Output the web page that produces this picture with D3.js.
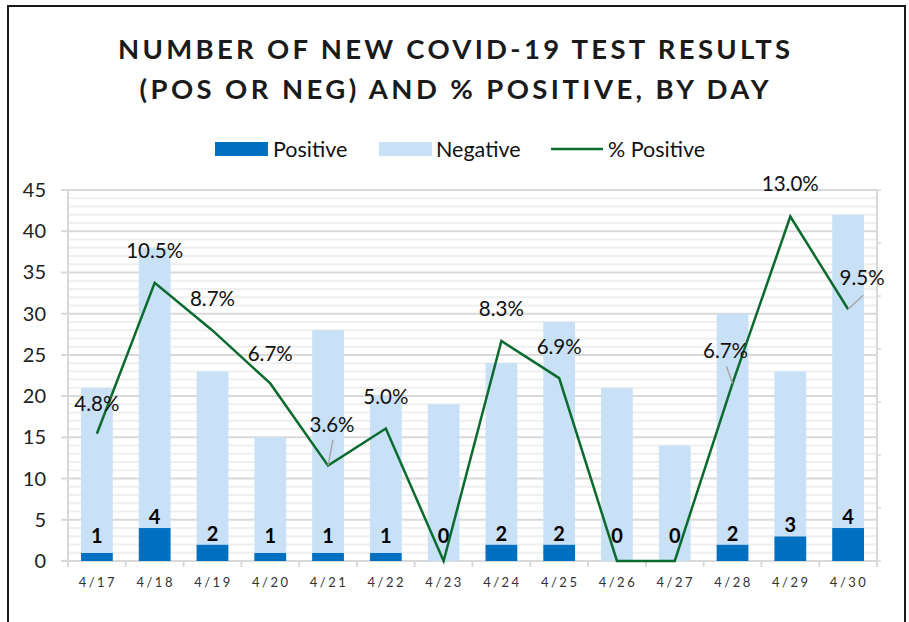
<!DOCTYPE html>
<html><head><meta charset="utf-8">
<script src="https://cdn.jsdelivr.net/npm/d3@7"></script>
<style>body{margin:0;background:#fff}svg{display:block}</style>
</head><body>
<svg id="c" width="909" height="622"></svg>
<script>
const categories = ["4/17","4/18","4/19","4/20","4/21","4/22","4/23","4/24","4/25","4/26","4/27","4/28","4/29","4/30"];
const positive = [1,4,2,1,1,1,0,2,2,0,0,2,3,4];
const negative = [20,34,21,14,27,19,19,22,27,21,14,28,20,38];
const pctPositive = [4.8,10.5,8.7,6.7,3.6,5.0,0,8.3,6.9,0,0,6.7,13.0,9.5];
const pctLabels = ["4.8%","10.5%","8.7%","6.7%","3.6%","5.0%",null,"8.3%","6.9%",null,null,"6.7%","13.0%","9.5%"];
const yTicks = [0,5,10,15,20,25,30,35,40,45];
const titleLines = ["NUMBER OF NEW COVID-19 TEST RESULTS","(POS OR NEG) AND % POSITIVE, BY DAY"];

const svg = d3.select("#c");
const m = {left:68, right:877, top:190, bottom:561};

// frame
svg.append("rect").attr("x",8).attr("y",6).attr("width",897).attr("height",640)
  .attr("fill","#fff").attr("stroke","#1a1a1a").attr("stroke-width",2);

const x = d3.scaleBand().domain(categories).range([m.left,m.right]).paddingInner(0.45).paddingOuter(0.225);
const y = d3.scaleLinear().domain([0,45]).range([m.bottom,m.top]);
const y2 = d3.scaleLinear().domain([0,14]).range([m.bottom,m.top]);

// gridlines
const g = svg.append("g");
g.selectAll("line.minor").data(d3.range(0,46)).join("line")
  .attr("x1",m.left).attr("x2",m.right)
  .attr("y1",d=>y(d)).attr("y2",d=>y(d))
  .attr("stroke",d=>d%5===0?"#d9d9d9":"#efefef").attr("stroke-width",2);
g.append("line").attr("x1",m.left).attr("x2",m.left).attr("y1",m.top).attr("y2",m.bottom).attr("stroke","#d9d9d9").attr("stroke-width",2);
g.append("line").attr("x1",m.right).attr("x2",m.right).attr("y1",m.top).attr("y2",m.bottom).attr("stroke","#d9d9d9").attr("stroke-width",2);
g.selectAll("line.t1").data(yTicks).join("line")
  .attr("x1",m.left-7).attr("x2",m.left).attr("y1",d=>y(d)).attr("y2",d=>y(d))
  .attr("stroke","#d9d9d9").attr("stroke-width",2);
g.selectAll("line.t2").data(d3.range(0,15,2)).join("line")
  .attr("x1",m.right).attr("x2",m.right+4).attr("y1",d=>y2(d)).attr("y2",d=>y2(d))
  .attr("stroke","#d9d9d9").attr("stroke-width",1.5);

// y axis labels
svg.append("g").selectAll("text").data(yTicks).join("text")
  .attr("x",46).attr("y",d=>y(d)).attr("dy","0.35em").attr("text-anchor","end")
  .attr("font-family","Lato, sans-serif").attr("font-size",20).attr("fill","#222")
  .text(d=>d);

// x axis line & ticks
svg.append("line").attr("x1",m.left).attr("x2",m.right).attr("y1",m.bottom).attr("y2",m.bottom).attr("stroke","#d9d9d9").attr("stroke-width",2);
svg.append("g").selectAll("line").data(d3.range(0,categories.length+1)).join("line")
  .attr("x1",d=>m.left+d*x.step()).attr("x2",d=>m.left+d*x.step())
  .attr("y1",m.bottom).attr("y2",m.bottom+6).attr("stroke","#d9d9d9").attr("stroke-width",2);
svg.append("g").selectAll("text").data(categories).join("text")
  .attr("x",d=>x(d)+x.bandwidth()/2+1).attr("y",587).attr("text-anchor","middle")
  .attr("font-family","Lato, sans-serif").attr("font-size",13).attr("letter-spacing","2.5px").attr("fill","#333")
  .text(d=>d);

// bars
const stackData = categories.map((c,i)=>({c,pos:positive[i],neg:negative[i]}));
const series = d3.stack().keys(["pos","neg"])(stackData);
const colors = {pos:"#0070c0", neg:"#c9e1f7"};
svg.append("g").selectAll("g").data(series).join("g").attr("fill",s=>colors[s.key])
  .selectAll("rect").data(s=>s).join("rect")
  .attr("x",d=>x(d.data.c)).attr("width",x.bandwidth())
  .attr("y",d=>y(d[1])).attr("height",d=>y(d[0])-y(d[1]));

// count labels
svg.append("g").selectAll("text").data(stackData).join("text")
  .attr("x",d=>x(d.c)+x.bandwidth()/2).attr("y",d=>Math.min(543,y(d.pos)-4))
  .attr("text-anchor","middle").attr("font-family","Lato, sans-serif").attr("font-weight","bold")
  .attr("font-size",20).attr("fill","#000").text(d=>d.pos);

// line
const cx = i=>x(categories[i])+x.bandwidth()/2;
const line = d3.line().x((d,i)=>cx(i)).y(d=>y2(d));
svg.append("path").datum(pctPositive).attr("d",line).attr("fill","none")
  .attr("stroke","#0b6b2e").attr("stroke-width",2.5).attr("stroke-linejoin","miter");

// pct label offsets from their points (manual placement as in original)
const lblOffsets = [[0,-23],[0,-25],[0,-24],[0,-22],[4,-34],[0,-25],null,[0,-25],[0,-24],null,null,[-7,-25],[0,-26],[14,-24]];
svg.append("g").selectAll("text").data(pctLabels.map((t,i)=>({t,i})).filter(d=>d.t)).join("text")
  .attr("x",d=>cx(d.i)+lblOffsets[d.i][0]).attr("y",d=>y2(pctPositive[d.i])+lblOffsets[d.i][1])
  .attr("text-anchor","middle").attr("font-family","Lato, sans-serif").attr("font-size",20.5).attr("fill","#111")
  .text(d=>d.t);

// leader lines
const leaders = [[4,[5,-26]],[11,[-6,-17]],[13,[15,-14]]];
svg.append("g").selectAll("line").data(leaders).join("line")
  .attr("x1",d=>cx(d[0])).attr("y1",d=>y2(pctPositive[d[0]]))
  .attr("x2",d=>cx(d[0])+d[1][0]).attr("y2",d=>y2(pctPositive[d[0]])+d[1][1])
  .attr("stroke","#a6a6a6").attr("stroke-width",1.5);

// title
const titleW = [672,629];
svg.append("g").selectAll("text").data(titleLines).join("text")
  .attr("x",454).attr("y",(d,i)=>59+i*40).attr("text-anchor","middle")
  .attr("textLength",(d,i)=>titleW[i]).attr("lengthAdjust","spacing")
  .attr("font-family","Lato, sans-serif").attr("font-weight","bold").attr("font-size",27.5)
  .attr("fill","#1a1a1a").text(d=>d);

// legend
const legend = svg.append("g").attr("font-family","Lato, sans-serif").attr("font-size",21.5).attr("fill","#111");
legend.append("rect").attr("x",215).attr("y",142).attr("width",53).attr("height",14).attr("fill",colors.pos);
legend.append("text").attr("x",273).attr("y",157).text("Positive");
legend.append("rect").attr("x",379).attr("y",142).attr("width",53).attr("height",14).attr("fill",colors.neg);
legend.append("text").attr("x",436).attr("y",157).text("Negative");
legend.append("line").attr("x1",551).attr("x2",603).attr("y1",149).attr("y2",149).attr("stroke","#0b6b2e").attr("stroke-width",2.5);
legend.append("text").attr("x",608).attr("y",157).text("% Positive");
</script>
</body></html>
